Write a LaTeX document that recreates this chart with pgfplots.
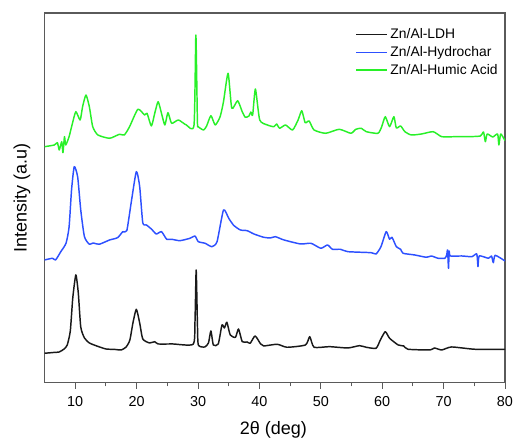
\documentclass[border=0pt]{standalone}
\usepackage{fontspec}
\setmainfont{Liberation Sans}
\usepackage{pgfplots}
\pgfplotsset{compat=1.18}

\definecolor{ldh}{RGB}{25,25,25}
\definecolor{hydro}{RGB}{45,80,255}
\definecolor{humic}{RGB}{40,240,40}
\definecolor{frame}{RGB}{90,90,90}

\begin{document}
\begin{tikzpicture}
% page size in proportion to the 517x444 reference (1 px = 0.75 pt)
\useasboundingbox (-33.4pt,-45.75pt) rectangle (354.4pt,287.25pt);
\begin{axis}[
    at={(0,0)}, anchor=south west,
    scale only axis,
    width=345.4pt, height=277.5pt,
    xmin=5, xmax=80, ymin=0, ymax=370,
    axis line style={frame, line width=0.8pt},
    xtick={10,20,...,80},
    minor xtick={15,25,...,75},
    ytick=\empty,
    xtick pos=bottom,
    tick align=outside,
    major tick length=4.5pt,
    minor tick length=2.5pt,
    tick style={frame, line width=0.7pt},
    /pgf/number format/assume math mode=true,
    xticklabel style={font=\fontsize{10.8}{12}\selectfont, yshift=-2pt},
    xlabel={2θ (deg)},
    ylabel={Intensity (a.u)},
    xlabel style={font=\fontsize{13.5}{15}\selectfont, at={(axis description cs:0.497,-0.127)}, anchor=center},
    ylabel style={font=\fontsize{13.5}{15}\selectfont, at={(axis description cs:-0.049,0.5)}, anchor=center},
    legend style={draw=none, fill=none, font=\fontsize{10.4}{12}\selectfont,
        at={(axis description cs:0.672,0.970)}, anchor=north west,
        row sep=0.4pt, inner sep=1pt,
        nodes={inner xsep=2pt}},
    legend cell align=left,
    legend image code/.code={\draw[#1, line width=1.2pt] (0pt,0pt) -- (23pt,0pt);},
    every axis plot/.append style={line width=1.1pt, line join=round, smooth, tension=0.35},
]
\addplot[ldh] coordinates {
(5,29.7) (6.5,30.5) (7.4,31) (8.2,34) (8.7,38) (9.2,52) (9.6,85) (10.1,108) (10.5,90)
(10.9,56) (11.5,45) (12.3,40) (13.5,37) (15,34) (16.5,33.5) (17.5,33) (18.3,36) (18.9,43)
(19.4,60) (19.95,73.7) (20.5,60) (21,44) (22.1,40) (22.95,41.3) (23.5,39) (25.9,39)
(29.2,38.7) (29.5,60) (29.7,113) (29.9,60) (30.05,38) (31.1,36) (31.7,40) (32.1,52)
(32.5,38) (33.3,39) (33.9,58) (34.3,55) (34.7,60.7) (35.25,48) (36.1,45.7) (36.6,54)
(37.2,41.3) (38,41) (38.5,39.7) (39.3,47) (40.2,39) (40.7,37) (42.9,38.7) (44.5,35.7)
(47.5,38) (48.2,46.3) (48.9,35.7) (51.4,36.3) (54.4,35) (56.3,37.3) (57.4,35.7) (59,34.7)
(59.7,43) (60.5,51.3) (61.2,44.7) (62.6,38) (63.5,37) (64.2,33.7) (67.8,33) (68.5,35)
(69.7,33) (71.3,36) (75.1,33.7) (80,33.7)
};
\addlegendentry{Zn/Al-LDH}
\addplot[hydro] coordinates {
(5,123) (6.3,124.7) (6.8,123) (7.65,131.3) (8.5,139.7) (9,156) (9.4,193) (9.84,216.3)
(10.4,206) (10.9,173) (11.5,146.3) (12.3,138.7) (12.9,140) (13.9,138.7) (15.6,143)
(16.9,145.3) (17.75,151.3) (18.4,152.3) (19.1,179.7) (19.95,211.3) (20.5,196.3) (21,160.3)
(21.6,158) (22.4,154) (23.2,149) (24.05,151.3) (24.9,143.7) (25.7,143.7) (27.05,142.3)
(28.7,144.7) (29.5,147) (30.05,141.3) (31.15,139.7) (32.25,136.3) (33.1,141.3) (34.15,173)
(35,164.7) (35.8,157.7) (36.9,153) (38,152.3) (39.1,149) (40.7,145.7) (41.8,145)
(42.6,146.3) (44,143) (46.7,139) (48.4,139.7) (50,134.7) (51.1,138) (51.9,133.7)
(53.2,133.7) (54.4,131.3) (58.2,130.3) (59,129) (59.8,136.3) (60.65,151.3) (61.2,143.7)
(61.6,145.7) (62.3,136.3) (63,133.7) (63.4,129.7) (65.3,128) (67.2,125.7) (68,127)
(69.1,124.7) (70.2,124.7) (70.5,128) (70.65,133) (70.8,114.7) (70.9,132) (71.1,127)
(72.95,127) (74.6,126.3) (75.4,129) (75.6,116.3) (75.8,127) (77.3,124.7) (77.8,127)
(78.1,120.3) (78.4,127.7) (80,122)
};
\addlegendentry{Zn/Al-Hydrochar}
\addplot[humic] coordinates {
(5,236.3) (6.6,238) (7.1,240.3) (7.4,233) (7.8,241.3) (8.0,230.3) (8.25,246.3) (8.45,238)
(9,246.3) (9.55,259.7) (10.1,271.3) (10.8,263) (11.2,276.3) (11.75,288) (12.3,276.3)
(12.85,256.3) (13.7,248) (15.6,244.7) (17.2,248.7) (18,248) (18.85,256.3) (20.2,273.7)
(21.3,268) (21.7,269.7) (22.4,257) (22.95,269.7) (23.5,281.3) (24.05,269.7) (24.6,258)
(25.1,270.3) (25.7,259.7) (26.8,263) (28.1,258) (29.35,258) (29.65,348) (29.9,262)
(30.05,256.3) (30.9,253) (31.4,257) (32.1,267.3) (32.8,258) (33.6,266.3) (34.15,281.3)
(34.9,309.7) (35.5,274.7) (36.45,282.3) (37.2,271.3) (37.7,265.7) (38.3,267) (38.6,271)
(38.9,268) (39.35,294) (40.05,263) (41.3,258) (42.35,256.3) (42.8,259) (43.3,254.7)
(44.25,258) (45.4,253) (46.3,263) (46.9,272.3) (47.45,260.3) (48.1,262) (48.9,253)
(50.8,249.7) (53,253.7) (54.9,249.7) (55.7,253.7) (56.6,254.7) (57.4,251.3) (59.3,249.7)
(59.9,256) (60.5,266.3) (61.2,256.3) (61.9,266.3) (62.3,255) (63,257) (63.7,251.3)
(64.75,248) (66.4,249) (68.3,251.3) (69.7,246.3) (71.9,246.3) (74,246.3) (76,247)
(76.5,251) (76.8,241.3) (77.1,249) (78,246) (78.8,249) (79,238) (79.3,249) (80,242.3)
};
\addlegendentry{Zn/Al-Humic Acid}
\end{axis}
\end{tikzpicture}
\end{document}
